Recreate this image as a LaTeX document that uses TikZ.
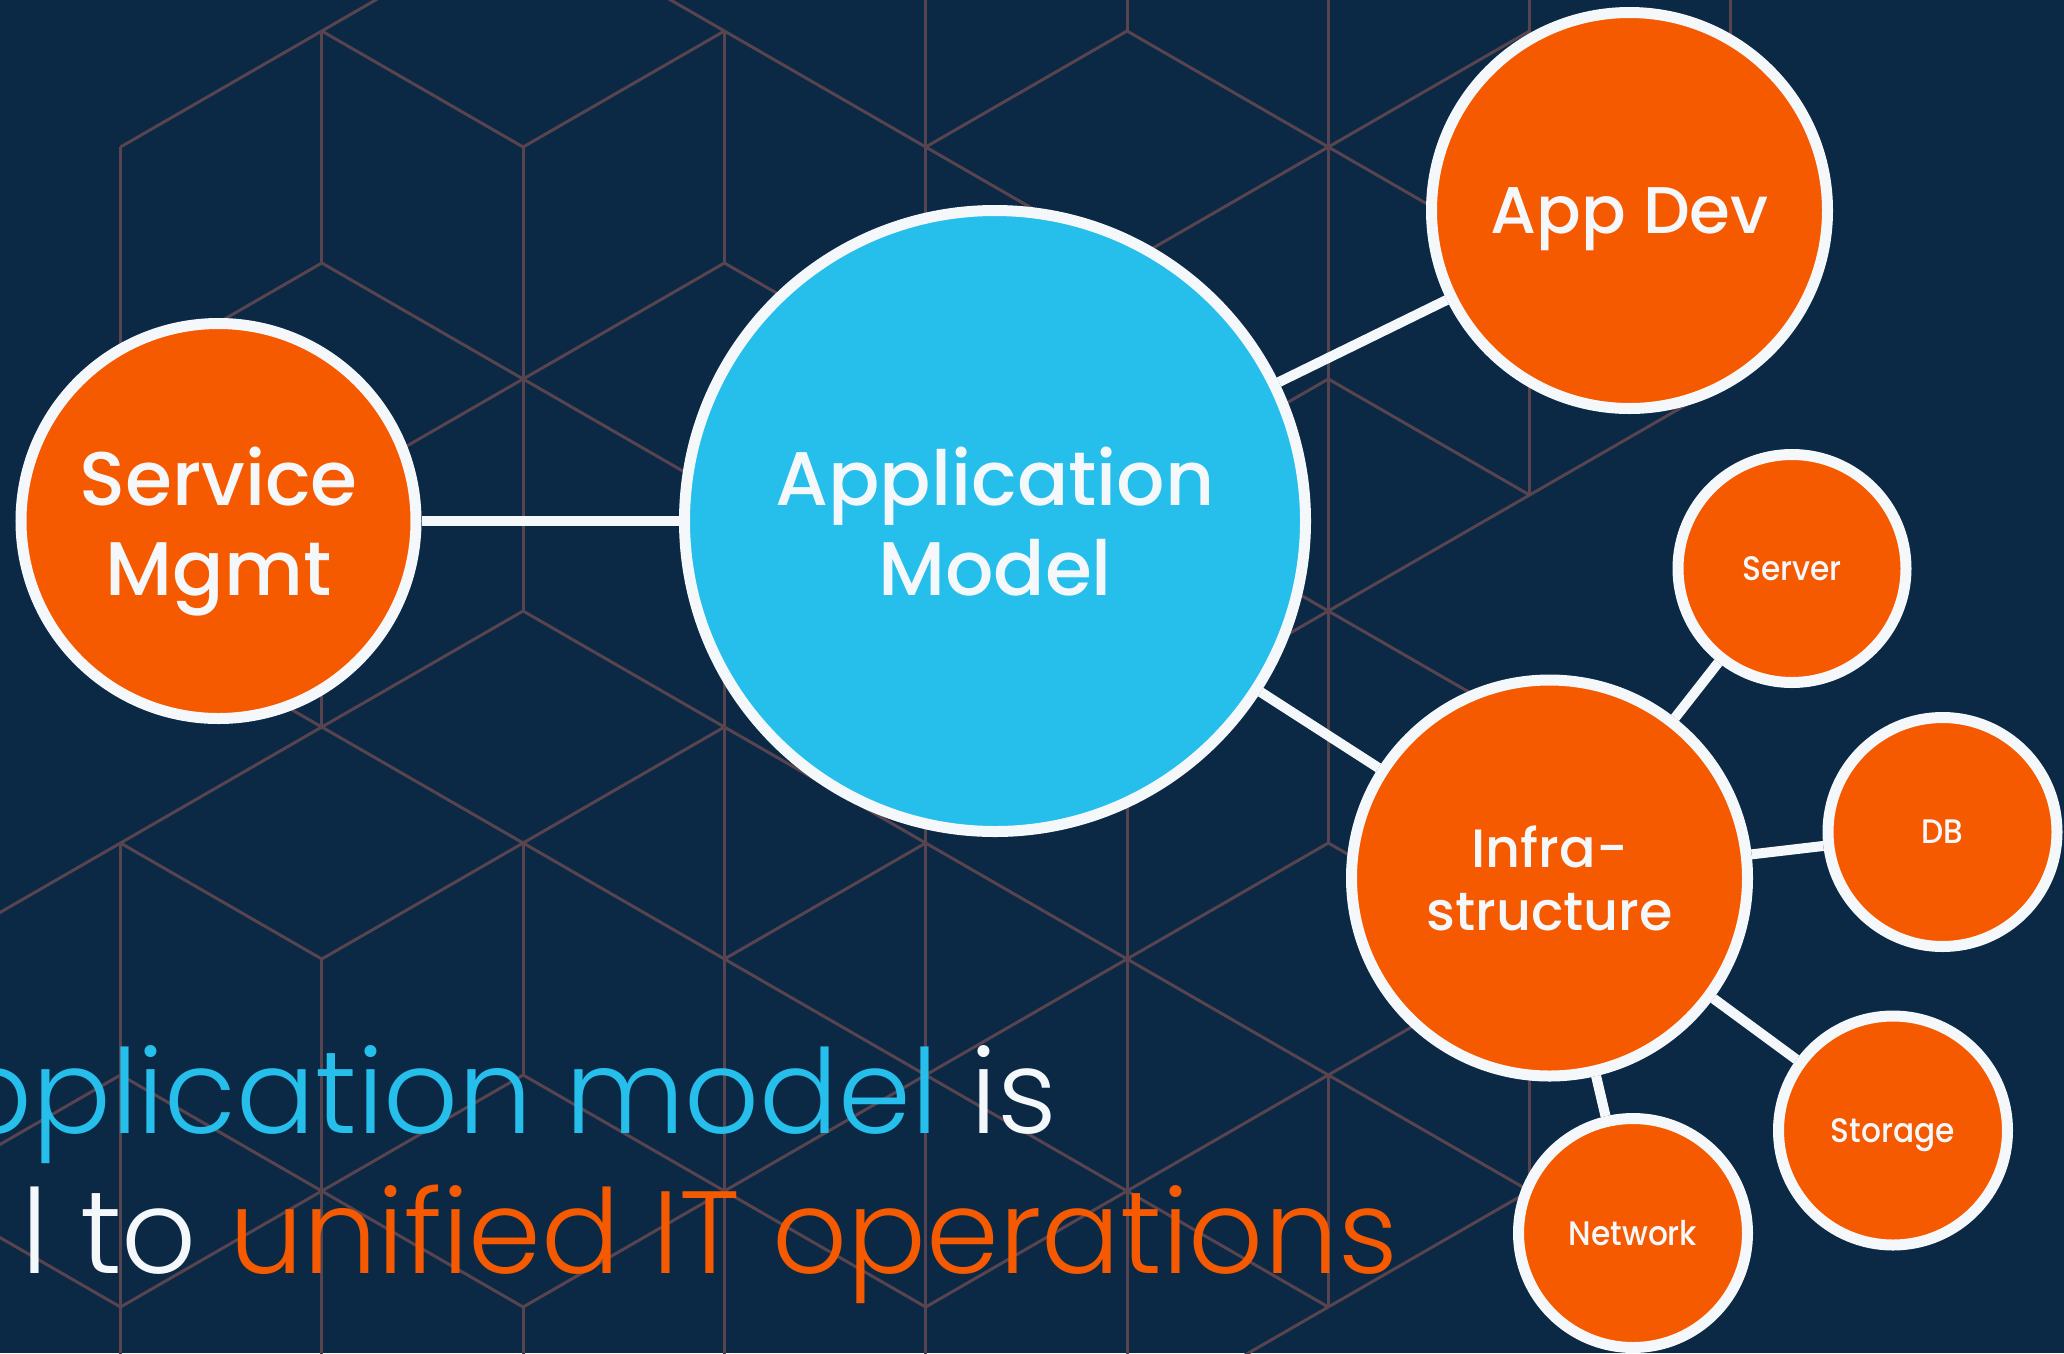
\documentclass[tikz,border=0pt]{standalone}
\usepackage{fontspec}
\setmainfont{Poppins}
\newfontfamily\medfont{Poppins Medium}
\newfontfamily\smallfont{Poppins Medium}[FakeStretch=0.92]
\newfontfamily\lightfont{Poppins Light}
\definecolor{navy}{HTML}{0B2845}
\definecolor{gridc}{HTML}{57444F}
\definecolor{orng}{HTML}{F55A00}
\definecolor{sky}{HTML}{26BEEA}
\definecolor{snow}{HTML}{F5F8FA}
\def\gx#1{120.5+201.3*(#1)}
\def\gy#1{31+116*(#1)}
\begin{document}
\begin{tikzpicture}[x=1pt,y=-1pt,
  gridline/.style={draw=gridc,line width=3pt},
  bubble/.style={circle,draw=snow,line width=11pt,inner sep=0pt,text=snow,align=center,text depth=0pt},
  orangebubble/.style={bubble,fill=orng},
  bluebubble/.style={bubble,fill=sky},
  link/.style={draw=snow,line width=10pt},
  bigtext/.style={font=\medfont\fontsize{76}{90}\selectfont},
  smalltext/.style={font=\smallfont\fontsize{34}{40}\selectfont},
  headline/.style={anchor=base east,inner sep=0pt,text=snow,font=\lightfont\fontsize{117}{140}\selectfont}
]
\useasboundingbox (0,0) rectangle (2064,1353);
\fill[navy] (0,0) rectangle (2064,1353);
\begin{scope}
\clip (0,0) rectangle (2064,1353);
% vertical segments
\foreach \k/\j in {0/1,1/0,2/1,2/3,3/0,4/-1,4/1,5/-2,6/-1,6/1,7/-2,8/-1,7/0,7/2,6/3,6/5,1/4,3/4,4/5,0/7,0/9,0/11,1/8,1/10,2/7,2/11,3/6,3/8,3/10,4/7,4/9,4/11,5/6,5/8,5/10,6/9,7/8}
  \draw[gridline] ({\gx{\k}},{\gy{\j}}) -- ({\gx{\k}},{\gy{\j+2}});
% rising segments
\foreach \k/\j in {0/1,2/1,1/0,0/3,2/3,1/4,1/6,4/1,6/1,5/2,5/4,6/5,7/4,-1/8,0/7,2/7,3/8,4/9,5/8,-1/10,1/10,2/11,3/10,4/11,5/10,6/9,6/11,5/12,0/11,1/8,5/6}
  \draw[gridline] ({\gx{\k}},{\gy{\j}}) -- ({\gx{\k+1}},{\gy{\j-1}});
% falling segments
\foreach \k/\j in {1/0,3/0,2/-1,1/2,3/2,2/3,2/5,4/1,5/0,6/1,6/3,6/5,5/4,0/5,1/6,0/7,2/7,3/6,4/7,5/8,6/7,0/9,2/9,1/10,-1/10,3/8,4/9,3/10,5/10,6/9}
  \draw[gridline] ({\gx{\k}},{\gy{\j}}) -- ({\gx{\k+1}},{\gy{\j+1}});
% headline
\node[headline] (line1) at (1057,1133) {\textcolor{sky}{pplication model} is};
\node[headline] (line2) at (1398,1273) {l to \textcolor{orng}{unified IT operations}};
\end{scope}
% bubbles
\node[orangebubble,bigtext,minimum size=395pt] (sm) at (218.5,521) {Service\\Mgmt};
\node[bluebubble,bigtext,minimum size=621pt] (am) at (995,521) {Application\\Model};
\node[orangebubble,font=\medfont\fontsize{66}{70}\selectfont,minimum size=396pt] (ad) at (1629.5,210.5) {App Dev};
\node[orangebubble,font=\medfont\fontsize{54}{63}\selectfont,minimum size=396pt] (inf) at (1549.5,878) {Infra-\\structure};
\node[orangebubble,smalltext,minimum size=228pt] (srv) at (1792,568.5) {Server};
\node[orangebubble,smalltext,minimum size=229pt] (db) at (1942.5,832) {DB};
\node[orangebubble,smalltext,minimum size=229pt] (sto) at (1893,1130.5) {Storage};
\node[orangebubble,smalltext,minimum size=229pt] (net) at (1633,1233) {Network};
% links
\draw[link] (sm) -- (am);
\draw[link] (am) -- (ad);
\draw[link] (am) -- (inf);
\draw[link] (inf) -- (srv);
\draw[link] (inf) -- (db);
\draw[link] (inf) -- (sto);
\draw[link] (inf) -- (net);
\end{tikzpicture}
\end{document}
